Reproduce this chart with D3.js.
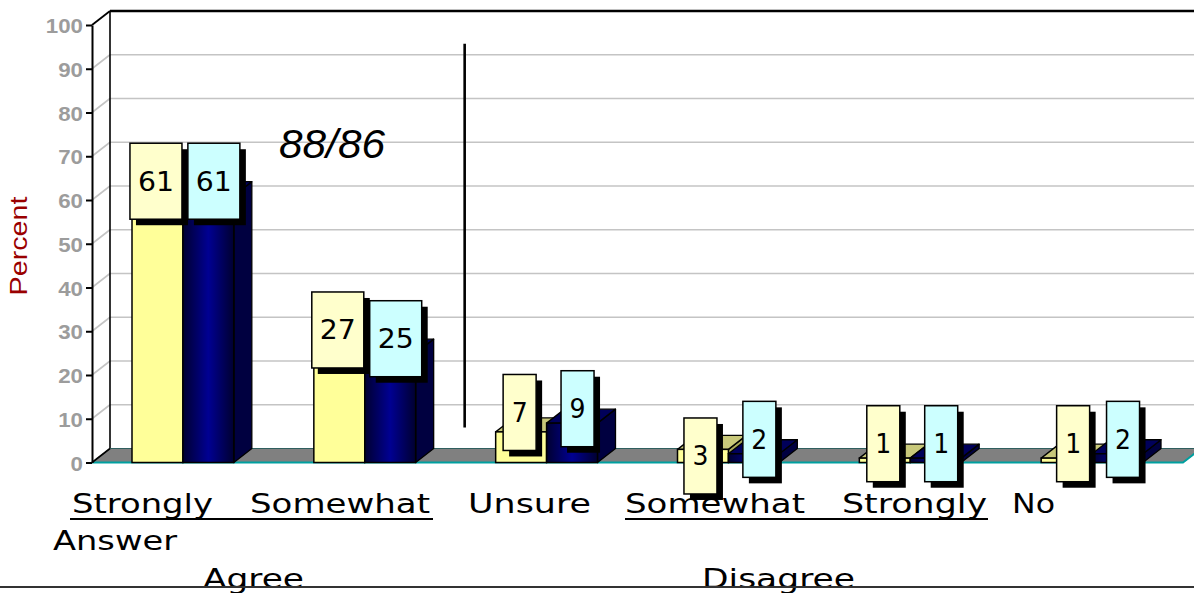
<!DOCTYPE html>
<html>
<head>
<meta charset="utf-8">
<script src="https://cdn.jsdelivr.net/npm/d3@7"></script>
<style>
  html, body { margin: 0; padding: 0; background: #ffffff; }
  svg { display: block; }
</style>
</head>
<body>
<svg id="chart" width="1194" height="593"></svg>
<script>
// ---------------- DATA ----------------
const categories = ["Strongly Agree", "Somewhat Agree", "Unsure", "Somewhat Disagree", "Strongly Disagree", "No Answer"];
const seriesNames = ["Series A", "Series B"];
const seriesA = [61, 27, 7, 3, 1, 1];
const seriesB = [61, 25, 9, 2, 1, 2];
const yTicks = [0, 10, 20, 30, 40, 50, 60, 70, 80, 90, 100];
const yAxisTitle = "Percent";
const annotationText = "88/86";
const bottomWords = ["Strongly", "Somewhat", "Unsure", "Somewhat", "Strongly", "No", "Answer", "Agree", "Disagree"];

// ---------------- LAYOUT ----------------
const W = 1194, H = 593;
const DX = 18, DY = -14;               // 3-D depth offset
const svg = d3.select("#chart");

const y = d3.scaleLinear().domain([0, 100]).range([462.5, 25]);
const x = d3.scaleBand().domain(categories).range([92, 1183]).paddingInner(0.44).paddingOuter(0.22);
const xs = d3.scaleBand().domain(seriesNames).range([0, x.bandwidth()]);

const defs = svg.append("defs");
const g1 = defs.append("linearGradient").attr("id", "navyGrad").attr("x1", 0).attr("x2", 1).attr("y1", 0).attr("y2", 0);
g1.append("stop").attr("offset", "0%").attr("stop-color", "#000030");
g1.append("stop").attr("offset", "50%").attr("stop-color", "#000092");
g1.append("stop").attr("offset", "100%").attr("stop-color", "#000030");

const x0 = x.range()[0], xEnd = x.range()[1];

// ---------- walls & gridlines ----------
const grid = svg.append("g");
yTicks.filter(t => t > 0 && t < 100).forEach(t => {
  grid.append("line").attr("x1", x0).attr("y1", y(t)).attr("x2", x0 + DX).attr("y2", y(t) + DY)
    .attr("stroke", "#c4c4c4").attr("stroke-width", 1.6);
  grid.append("line").attr("x1", x0 + DX).attr("y1", y(t) + DY).attr("x2", W + 5).attr("y2", y(t) + DY)
    .attr("stroke", "#c4c4c4").attr("stroke-width", 1.6);
});
grid.append("line").attr("x1", x0 + DX).attr("y1", y(100) + DY).attr("x2", x0 + DX).attr("y2", y(0) + DY)
  .attr("stroke", "#000").attr("stroke-width", 1.6);
grid.append("line").attr("x1", x0 + DX).attr("y1", y(100) + DY).attr("x2", W + 5).attr("y2", y(100) + DY)
  .attr("stroke", "#000").attr("stroke-width", 2.4);
grid.append("line").attr("x1", x0).attr("y1", y(100)).attr("x2", x0 + DX).attr("y2", y(100) + DY)
  .attr("stroke", "#000").attr("stroke-width", 1.8);

// ---------- floor ----------
const floorPts = [[x0, y(0)], [xEnd, y(0)], [xEnd + DX, y(0) + DY], [x0 + DX, y(0) + DY]];
svg.append("polygon").attr("points", floorPts.map(p => p.join(",")).join(" "))
  .attr("fill", "#808080").attr("stroke", "#2f5f5f").attr("stroke-width", 1);
svg.append("polyline").attr("points", [[x0, y(0)], [xEnd, y(0)], [xEnd + DX, y(0) + DY]].map(p => p.join(",")).join(" "))
  .attr("fill", "none").attr("stroke", "#00a0a0").attr("stroke-width", 2);
svg.append("line").attr("x1", x0).attr("y1", y(0)).attr("x2", x0 + DX).attr("y2", y(0) + DY)
  .attr("stroke", "#000").attr("stroke-width", 1.6);

// ---------- y axis ----------
const yAxis = d3.axisLeft(y).tickValues(yTicks).tickSize(6).tickSizeOuter(0).tickPadding(3);
const ga = svg.append("g").attr("transform", `translate(${x0},0)`).call(yAxis);
ga.select(".domain").attr("stroke", "#000").attr("stroke-width", 2);
ga.selectAll(".tick line").attr("stroke", "#000").attr("stroke-width", 2);
ga.selectAll(".tick text")
  .attr("font-family", "Liberation Sans, Arial, sans-serif")
  .attr("font-weight", "bold").attr("font-size", 21).attr("fill", "#9c9c9c")
  .attr("dy", "0.36em")
  .attr("textLength", d => String(d).length * 12.4).attr("lengthAdjust", "spacingAndGlyphs");

// ---------- annotation divider & text ----------
const divX = x(categories[1]) + x.step() - x.paddingInner() * x.step() / 2 + DX / 2;
svg.append("line").attr("x1", divX).attr("x2", divX).attr("y1", y(95.7)).attr("y2", y(8))
  .attr("stroke", "#000").attr("stroke-width", 2.6);
svg.append("text").attr("x", 279).attr("y", 158)
  .attr("font-family", "Liberation Sans, Arial, sans-serif").attr("font-style", "italic")
  .attr("font-size", 40).attr("fill", "#000")
  .attr("textLength", 106).attr("lengthAdjust", "spacingAndGlyphs")
  .text(annotationText);

// ---------- bars ----------
const barStyles = {
  "Series A": { front: "#ffff99", top: "#c8c87a", side: "#a8a85a" },
  "Series B": { front: "url(#navyGrad)", top: "#00005a", side: "#000040" }
};
const rows = [];
categories.forEach((c, i) => {
  rows.push({ cat: c, s: "Series A", v: seriesA[i], i });
  rows.push({ cat: c, s: "Series B", v: seriesB[i], i });
});
const bars = svg.append("g");
rows.forEach(d => {
  const bx0 = x(d.cat) + xs(d.s), bx1 = bx0 + xs.bandwidth();
  const top = y(d.v), bot = y(0);
  const st = barStyles[d.s];
  const g = bars.append("g");
  g.append("polygon").attr("points", [[bx1, top], [bx1 + DX, top + DY], [bx1 + DX, bot + DY], [bx1, bot]].map(p => p.join(",")).join(" "))
    .attr("fill", st.side).attr("stroke", "#000").attr("stroke-width", 1.3).attr("stroke-linejoin", "round");
  g.append("polygon").attr("points", [[bx0, top], [bx0 + DX, top + DY], [bx1 + DX, top + DY], [bx1, top]].map(p => p.join(",")).join(" "))
    .attr("fill", st.top).attr("stroke", "#000").attr("stroke-width", 1.3).attr("stroke-linejoin", "round");
  g.append("rect").attr("x", bx0).attr("y", top).attr("width", bx1 - bx0).attr("height", bot - top)
    .attr("fill", st.front).attr("stroke", "#000").attr("stroke-width", 1.5);
});

// ---------- y axis title ----------
svg.append("text")
  .attr("transform", `translate(27,246) rotate(-90)`)
  .attr("text-anchor", "middle")
  .attr("font-family", "Liberation Sans, Arial, sans-serif").attr("font-size", 23)
  .attr("fill", "#990000")
  .attr("textLength", 99).attr("lengthAdjust", "spacingAndGlyphs")
  .text(yAxisTitle);

// ---------- bottom category text ----------
const wordLayout = [
  { x: 72, w: 141, y: 513 }, { x: 250, w: 180, y: 513 }, { x: 468, w: 123, y: 513 },
  { x: 625, w: 180, y: 513 }, { x: 842, w: 145, y: 513 }, { x: 1012, w: 43, y: 513 },
  { x: 53, w: 124, y: 550 }, { x: 203, w: 101, y: 588 }, { x: 702, w: 153, y: 588 }
];
const tg = svg.append("g").attr("font-family", "DejaVu Sans, Verdana, sans-serif").attr("font-size", 26).attr("fill", "#000");
bottomWords.forEach((wd, k) => {
  const L = wordLayout[k];
  tg.append("text").attr("x", L.x).attr("y", L.y)
    .attr("textLength", L.w).attr("lengthAdjust", "spacingAndGlyphs").text(wd);
});
[[70, 433], [625, 988]].forEach(([a, b]) => {
  svg.append("line").attr("x1", a).attr("x2", b).attr("y1", 519).attr("y2", 519)
    .attr("stroke", "#000").attr("stroke-width", 2.2);
});
svg.append("line").attr("x1", 0).attr("x2", W).attr("y1", 587).attr("y2", 587)
  .attr("stroke", "#333").attr("stroke-width", 2);

// ---------- data label boxes ----------
const baseDx = { "Series A": -1.5, "Series B": 5.5 };
const nudge = { "Unsure|Series A": [0, -5], "Somewhat Disagree|Series A": [-1, 21], "No Answer|Series A": [8, 0] };
const lg = svg.append("g");
rows.forEach(d => {
  const cx = x(d.cat) + xs(d.s) + xs.bandwidth() / 2;
  const n = nudge[d.cat + "|" + d.s] || [0, 0];
  const ccx = cx + baseDx[d.s] + n[0];
  const ccy = y(d.v) - 14.4 + n[1];
  const txt = String(d.v);
  const bw = txt.length === 2 ? 52 : 33, bh = 76;
  lg.append("rect").attr("x", ccx - bw / 2 + 6).attr("y", ccy - bh / 2 + 6).attr("width", bw).attr("height", bh).attr("fill", "#000");
  lg.append("rect").attr("x", ccx - bw / 2).attr("y", ccy - bh / 2).attr("width", bw).attr("height", bh)
    .attr("fill", d.s === "Series A" ? "#ffffcc" : "#ccffff").attr("stroke", "#000").attr("stroke-width", 1.5);
  lg.append("text").attr("x", ccx).attr("y", ccy + 9.5).attr("text-anchor", "middle")
    .attr("font-family", "DejaVu Sans, Verdana, sans-serif").attr("font-size", 26).attr("fill", "#000")
    .attr("textLength", txt.length === 2 ? 36 : 16).attr("lengthAdjust", "spacingAndGlyphs")
    .text(txt);
});
</script>
</body>
</html>
